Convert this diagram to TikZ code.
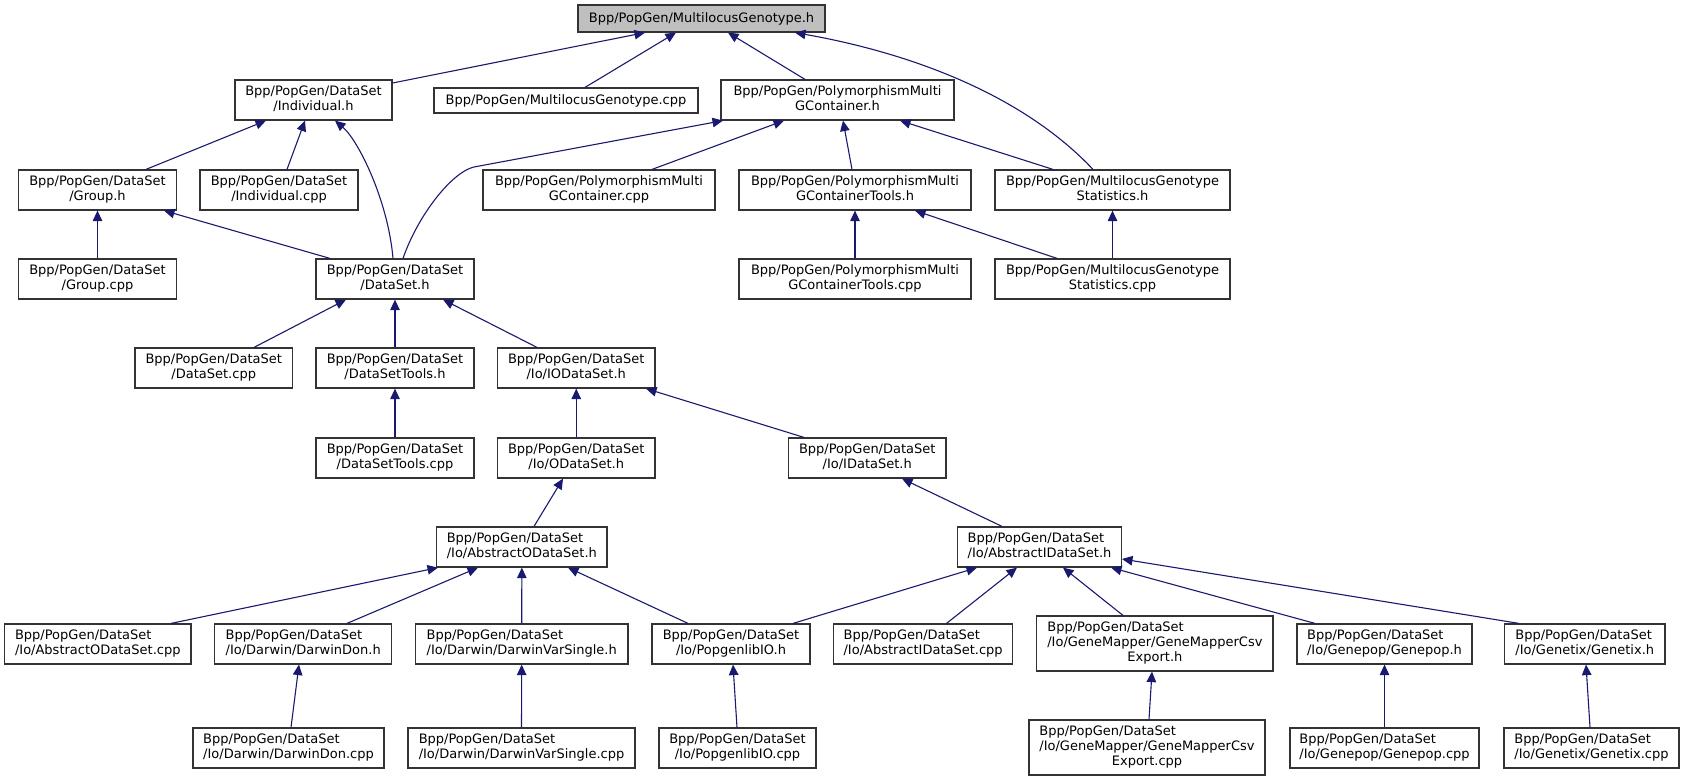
\documentclass[tikz,border=0pt]{standalone}
\usepackage{fontspec}
\setmainfont{DejaVu Sans}
\usetikzlibrary{arrows.meta,calc}
\definecolor{edgeblue}{HTML}{191970}
\definecolor{boxline}{HTML}{333333}
\definecolor{mainfill}{HTML}{BFBFBF}
\newcommand{\twol}[2]{\begin{tabular}{@{}l@{}}#1\\\multicolumn{1}{@{}c@{}}{#2}\end{tabular}}
\newcommand{\threel}[3]{\begin{tabular}{@{}l@{}}#1\\#2\\\multicolumn{1}{@{}c@{}}{#3}\end{tabular}}
\begin{document}
\begin{tikzpicture}[x=1bp,y=-1bp,
  box/.style={draw=boxline, line width=1.2bp, fill=white, inner sep=0pt, minimum height=40bp,
              font=\fontsize{13bp}{15bp}\selectfont, align=center},
  edge/.style={draw=edgeblue, line width=1.1bp, arrows={Triangle[length=10.5bp,width=9.5bp]-}},
]
\useasboundingbox (0,0) rectangle (1684,781);

% row 0
\node[box, minimum width=247bp, minimum height=27bp, fill=mainfill] (mgh) at (701.5,18.5) {Bpp/PopGen/MultilocusGenotype.h};
% row 1
\node[box, minimum width=157bp] (ind) at (313.5,100) {\twol{Bpp/PopGen/DataSet}{/Individual.h}};
\node[box, minimum width=264bp, minimum height=25bp] (mgcpp) at (566,100.5) {Bpp/PopGen/MultilocusGenotype.cpp};
\node[box, minimum width=233bp] (pmgch) at (837.5,100) {\twol{Bpp/PopGen/PolymorphismMulti}{GContainer.h}};
% row 2
\node[box, minimum width=158bp] (group) at (97.5,190) {\twol{Bpp/PopGen/DataSet}{/Group.h}};
\node[box, minimum width=158bp] (indcpp) at (279,190) {\twol{Bpp/PopGen/DataSet}{/Individual.cpp}};
\node[box, minimum width=232bp] (pmgccpp) at (599,190) {\twol{Bpp/PopGen/PolymorphismMulti}{GContainer.cpp}};
\node[box, minimum width=232bp] (pmgctoolsh) at (855,190) {\twol{Bpp/PopGen/PolymorphismMulti}{GContainerTools.h}};
\node[box, minimum width=235bp] (mgstatsh) at (1112.5,190) {\twol{Bpp/PopGen/MultilocusGenotype}{Statistics.h}};
% row 3
\node[box, minimum width=158bp] (groupcpp) at (97.5,279) {\twol{Bpp/PopGen/DataSet}{/Group.cpp}};
\node[box, minimum width=158bp] (dataseth) at (395,279) {\twol{Bpp/PopGen/DataSet}{/DataSet.h}};
\node[box, minimum width=232bp] (pmgctoolscpp) at (855,279) {\twol{Bpp/PopGen/PolymorphismMulti}{GContainerTools.cpp}};
\node[box, minimum width=235bp] (mgstatscpp) at (1112.5,279) {\twol{Bpp/PopGen/MultilocusGenotype}{Statistics.cpp}};
% row 4
\node[box, minimum width=157.5bp] (datasetcpp) at (213.75,368) {\twol{Bpp/PopGen/DataSet}{/DataSet.cpp}};
\node[box, minimum width=158bp] (datasettoolsh) at (395,368) {\twol{Bpp/PopGen/DataSet}{/DataSetTools.h}};
\node[box, minimum width=157.5bp] (iodataseth) at (576.25,368) {\twol{Bpp/PopGen/DataSet}{/Io/IODataSet.h}};
% row 5
\node[box, minimum width=158bp] (datasettoolscpp) at (395,458) {\twol{Bpp/PopGen/DataSet}{/DataSetTools.cpp}};
\node[box, minimum width=157.5bp] (odataseth) at (576.25,458) {\twol{Bpp/PopGen/DataSet}{/Io/ODataSet.h}};
\node[box, minimum width=157.5bp] (idataseth) at (867.25,458) {\twol{Bpp/PopGen/DataSet}{/Io/IDataSet.h}};
% row 6
\node[box, minimum width=170.3bp] (aodsh) at (521.85,547) {\twol{Bpp/PopGen/DataSet}{/Io/AbstractODataSet.h}};
\node[box, minimum width=163.7bp] (aidsh) at (1039.55,547) {\twol{Bpp/PopGen/DataSet}{/Io/AbstractIDataSet.h}};
% row 7
\node[box, minimum width=186.4bp] (aodscpp) at (97.8,644) {\twol{Bpp/PopGen/DataSet}{/Io/AbstractODataSet.cpp}};
\node[box, minimum width=177.2bp] (darwindonh) at (303.2,644) {\twol{Bpp/PopGen/DataSet}{/Io/Darwin/DarwinDon.h}};
\node[box, minimum width=212.6bp] (dvsh) at (521.7,644) {\twol{Bpp/PopGen/DataSet}{/Io/Darwin/DarwinVarSingle.h}};
\node[box, minimum width=158bp] (popgenlibioh) at (731,644) {\twol{Bpp/PopGen/DataSet}{/Io/PopgenlibIO.h}};
\node[box, minimum width=179.1bp] (aidscpp) at (923.15,644) {\twol{Bpp/PopGen/DataSet}{/Io/AbstractIDataSet.cpp}};
\node[box, minimum width=236.2bp, minimum height=55bp] (gmcsvh) at (1154.9,643.5) {\threel{Bpp/PopGen/DataSet}{/Io/GeneMapper/GeneMapperCsv}{Export.h}};
\node[box, minimum width=175bp] (genepoph) at (1384.5,644) {\twol{Bpp/PopGen/DataSet}{/Io/Genepop/Genepop.h}};
\node[box, minimum width=160.5bp] (genetixh) at (1584.75,644) {\twol{Bpp/PopGen/DataSet}{/Io/Genetix/Genetix.h}};
% row 8
\node[box, minimum width=191bp] (darwindoncpp) at (288.5,748) {\twol{Bpp/PopGen/DataSet}{/Io/Darwin/DarwinDon.cpp}};
\node[box, minimum width=227bp] (dvscpp) at (521.5,748) {\twol{Bpp/PopGen/DataSet}{/Io/Darwin/DarwinVarSingle.cpp}};
\node[box, minimum width=157bp] (popgenlibiocpp) at (737.5,748) {\twol{Bpp/PopGen/DataSet}{/Io/PopgenlibIO.cpp}};
\node[box, minimum width=236bp, minimum height=55bp] (gmcsvcpp) at (1147,747.5) {\threel{Bpp/PopGen/DataSet}{/Io/GeneMapper/GeneMapperCsv}{Export.cpp}};
\node[box, minimum width=189bp] (genepopcpp) at (1384.5,748) {\twol{Bpp/PopGen/DataSet}{/Io/Genepop/Genepop.cpp}};
\node[box, minimum width=175bp] (genetixcpp) at (1591.5,748) {\twol{Bpp/PopGen/DataSet}{/Io/Genetix/Genetix.cpp}};

% edges (arrow at the included file)
\draw[edge] (mgh.south -| 645,0) -- (ind.east |- 0,83);
\draw[edge] (mgh.south -| 676,0) -- (mgcpp.north -| 585,0);
\draw[edge] (mgh.south -| 728,0) -- (pmgch.north -| 805,0);
\draw[edge] (mgh.south -| 795,0) .. controls (905,52) and (1020,92) .. (mgstatsh.north -| 1093,0);
\draw[edge] (ind.south -| 266,0) -- (group.north -| 146,0);
\draw[edge] (ind.south -| 305,0) -- (indcpp.north -| 287,0);
\draw[edge] (ind.south -| 335,0) .. controls (358,140) and (388,200) .. (dataseth.north -| 393,0);
\draw[edge] (pmgch.south -| 723,0) -- (474,167) .. controls (452,172) and (418,215) .. (dataseth.north -| 403,0);
\draw[edge] (pmgch.south -| 784,0) -- (pmgccpp.north -| 652,0);
\draw[edge] (pmgch.south -| 843,0) -- (pmgctoolsh.north -| 852,0);
\draw[edge] (pmgch.south -| 900,0) -- (mgstatsh.north -| 1053,0);
\draw[edge] (group.south) -- (groupcpp.north);
\draw[edge] (group.south -| 164,0) -- (dataseth.north -| 330,0);
\draw[edge] (pmgctoolsh.south) -- (pmgctoolscpp.north);
\draw[edge] (pmgctoolsh.south -| 915,0) -- (mgstatscpp.north -| 1057,0);
\draw[edge] (mgstatsh.south) -- (mgstatscpp.north);
\draw[edge] (dataseth.south -| 346,0) -- (datasetcpp.north -| 254,0);
\draw[edge] (dataseth.south) -- (datasettoolsh.north);
\draw[edge] (dataseth.south -| 443,0) -- (iodataseth.north -| 537,0);
\draw[edge] (datasettoolsh.south) -- (datasettoolscpp.north);
\draw[edge] (iodataseth.south) -- (odataseth.north);
\draw[edge] (iodataseth.south -| 646,0) -- (idataseth.north -| 804,0);
\draw[edge] (odataseth.south -| 563,0) -- (aodsh.north -| 534,0);
\draw[edge] (idataseth.south -| 902,0) -- (aidsh.north -| 1002,0);
\draw[edge] (aodsh.south -| 438,0) -- (aodscpp.north -| 171,0);
\draw[edge] (aodsh.south -| 478,0) -- (darwindonh.north -| 347,0);
\draw[edge] (aodsh.south) -- (dvsh.north);
\draw[edge] (aodsh.south -| 568,0) -- (popgenlibioh.north -| 688,0);
\draw[edge] (aidsh.south -| 977,0) -- (popgenlibioh.north -| 793,0);
\draw[edge] (aidsh.south -| 1017,0) -- (aidscpp.north -| 946.5,0);
\draw[edge] (aidsh.south -| 1063,0) -- (gmcsvh.north -| 1123,0);
\draw[edge] (aidsh.south -| 1111,0) -- (genepoph.north -| 1315,0);
\draw[edge] (aidsh.east |- 0,559) -- (genetixh.north -| 1519,0);
\draw[edge] (darwindonh.south -| 299,0) -- (darwindoncpp.north -| 291,0);
\draw[edge] (dvsh.south) -- (dvscpp.north);
\draw[edge] (popgenlibioh.south -| 733,0) -- (popgenlibiocpp.north -| 737,0);
\draw[edge] (gmcsvh.south -| 1152,0) -- (gmcsvcpp.north -| 1149,0);
\draw[edge] (genepoph.south) -- (genepopcpp.north);
\draw[edge] (genetixh.south -| 1586,0) -- (genetixcpp.north -| 1590,0);
\end{tikzpicture}
\end{document}
